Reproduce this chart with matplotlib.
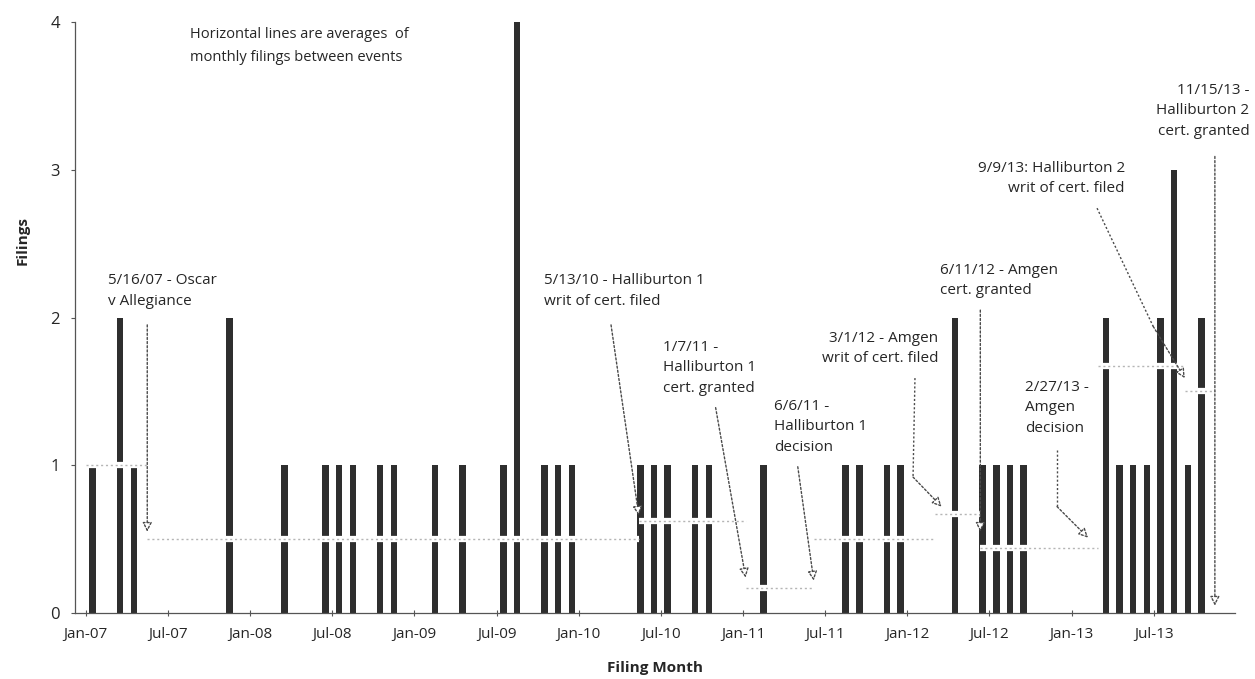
import numpy as np
import pandas as pd
import matplotlib
matplotlib.use("Agg")
import matplotlib.pyplot as plt

plt.rcParams["font.family"] = ["Open Sans", "DejaVu Sans"]

# ---------------- data ----------------
FILING_MONTHS = ["2007-01", "2007-03", "2007-04", "2007-11", "2008-03", "2008-06",
                 "2008-07", "2008-08", "2008-10", "2008-11", "2009-02", "2009-04",
                 "2009-07", "2009-08", "2009-10", "2009-11", "2009-12", "2010-05",
                 "2010-06", "2010-07", "2010-09", "2010-10", "2011-02", "2011-08",
                 "2011-09", "2011-11", "2011-12", "2012-04", "2012-06", "2012-07",
                 "2012-08", "2012-09", "2013-03", "2013-04", "2013-05", "2013-06",
                 "2013-07", "2013-08", "2013-09", "2013-10"]
FILINGS = [1, 2, 1, 2, 1, 1,
           1, 1, 1, 1, 1, 1,
           1, 4, 1, 1, 1, 1,
           1, 1, 1, 1, 1, 1,
           1, 1, 1, 2, 1, 1,
           1, 1, 2, 1, 1, 1,
           2, 3, 1, 2]

EVENT_DATES = ["2007-05-16", "2010-05-13", "2011-01-07", "2011-06-06", "2012-03-01",
               "2012-06-11", "2013-02-27", "2013-09-09", "2013-11-15"]
EVENT_LABELS = ["5/16/07 - Oscar\nv Allegiance",
                "5/13/10 - Halliburton 1\nwrit of cert. filed",
                "1/7/11 -\nHalliburton 1\ncert. granted",
                "6/6/11 -\nHalliburton 1\ndecision",
                "3/1/12 - Amgen\nwrit of cert. filed",
                "6/11/12 - Amgen\ncert. granted",
                "2/27/13 -\nAmgen\ndecision",
                "9/9/13: Halliburton 2\nwrit of cert. filed",
                "11/15/13 -\nHalliburton 2\ncert. granted"]
# average monthly filings between consecutive events (first one from Jan-07)
AVG_LEVELS = [1.0, 0.5, 0.625, 0.17, 0.5, 0.67, 0.44, 1.67, 1.5]

TICK_LABELS = ["Jan-07", "Jul-07", "Jan-08", "Jul-08", "Jan-09", "Jul-09", "Jan-10",
               "Jul-10", "Jan-11", "Jul-11", "Jan-12", "Jul-12", "Jan-13", "Jul-13"]

NOTE = "Horizontal lines are averages  of\nmonthly filings between events"

START = pd.Timestamp("2007-01-01")


def month_pos(ts):
    """date -> months since Jan-07 (fractional inside the month)"""
    ts = pd.Timestamp(ts)
    k = (ts.year - START.year) * 12 + ts.month - 1
    return k + (ts.day - 1) / ts.days_in_month


bar_x = np.array([month_pos(m + "-01") + 0.5 for m in FILING_MONTHS])
ev_x = [month_pos(d) for d in EVENT_DATES]
tick_x = [month_pos(pd.to_datetime(t, format="%b-%y")) for t in TICK_LABELS]

# ---------------- layout (text anchor, arrow path) ----------------
# (x, y, ha) for each label; arrow path points, last one is the tip
TEXT_POS = [(1.63, 2.18, "left"), (33.5, 2.18, "left"), (42.16, 1.66, "left"),
            (50.27, 1.26, "left"), (62.25, 1.79, "right"), (62.4, 2.25, "left"),
            (68.6, 1.39, "left"), (75.9, 2.94, "right"), (85.0, 3.40, "right")]
ARROWS = [
    [(ev_x[0], 1.95), (ev_x[0], 0.55)],
    [(38.36, 1.95), (ev_x[1], 0.66)],
    [(46.0, 1.39), (ev_x[2], 0.24)],
    [(52.0, 0.99), (ev_x[3], 0.22)],
    [(60.56, 1.59), (60.42, 0.92), (ev_x[4] + 0.5, 0.72)],
    [(ev_x[5], 2.05), (ev_x[5], 0.55)],
    [(70.94, 1.10), (70.94, 0.72), (73.2, 0.51)],
    [(73.86, 2.74), (77.96, 1.94), (ev_x[7], 1.59)],
    [(ev_x[8], 3.09), (ev_x[8], 0.05)],
]

INK = "#262626"
fig = plt.figure(figsize=(12.55, 6.79), dpi=100)
ax = fig.add_axes([0.0598, 0.0972, 0.9243, 0.8704])

ax.bar(bar_x, FILINGS, width=0.47, color="#2e2e2e", zorder=2)

# average lines between events
seg_start = [0.0] + ev_x[:-1]
for x0, x1, lvl in zip(seg_start, ev_x, AVG_LEVELS):
    ax.plot([x0, x1], [lvl, lvl], color="white", lw=4.5, zorder=3, solid_capstyle="butt")
    ax.plot([x0, x1], [lvl, lvl], color="#b5b5b5", lw=1, ls=(0, (1.5, 2)), zorder=4)

# event labels and dotted arrows
for lab, (tx, ty, ha), path in zip(EVENT_LABELS, TEXT_POS, ARROWS):
    ax.text(tx, ty, lab, ha=ha, va="center", fontsize=11, color=INK,
            linespacing=1.5, zorder=6)
    if len(path) > 2:
        xs, ys = zip(*path[:-1])
        ax.plot(xs, ys, color="#4a4a4a", lw=1, ls=(0, (1.5, 1.5)), zorder=5)
    ax.annotate("", xy=path[-1], xytext=path[-2],
                arrowprops=dict(arrowstyle="-|>,head_length=0.55,head_width=0.28",
                                ec="#4a4a4a", fc="white", lw=1,
                                linestyle=(0, (1.5, 1.5)),
                                shrinkA=0, shrinkB=0), zorder=5)

ax.text(7.6, 3.84, NOTE, ha="left", va="center", fontsize=10.5, color=INK,
        linespacing=1.75)

ax.set_xlim(-0.79, 83.94)
ax.set_ylim(0, 4)
ax.set_xticks(tick_x)
ax.set_xticklabels(TICK_LABELS, fontsize=11, color=INK)
ax.set_yticks(range(5))
ax.set_yticklabels([str(v) for v in range(5)], fontsize=12, color=INK)
ax.tick_params(axis="x", direction="inout", length=4, width=0.8, color="#555", pad=8)
ax.tick_params(axis="y", direction="out", length=3, width=0.8, color="#555", pad=8)

for side in ("top", "right"):
    ax.spines[side].set_visible(False)
for side in ("left", "bottom"):
    ax.spines[side].set_color("#555")
    ax.spines[side].set_linewidth(0.9)
    ax.spines[side].set_linestyle((0, (2, 1)))

ax.set_xlabel("Filing Month", fontsize=11, fontweight="bold", color=INK, labelpad=14)
ax.set_ylabel("Filings", fontsize=11, fontweight="bold", color=INK)
ax.yaxis.set_label_coords(-0.039, 0.63)

fig.savefig("out.png", dpi=100)
